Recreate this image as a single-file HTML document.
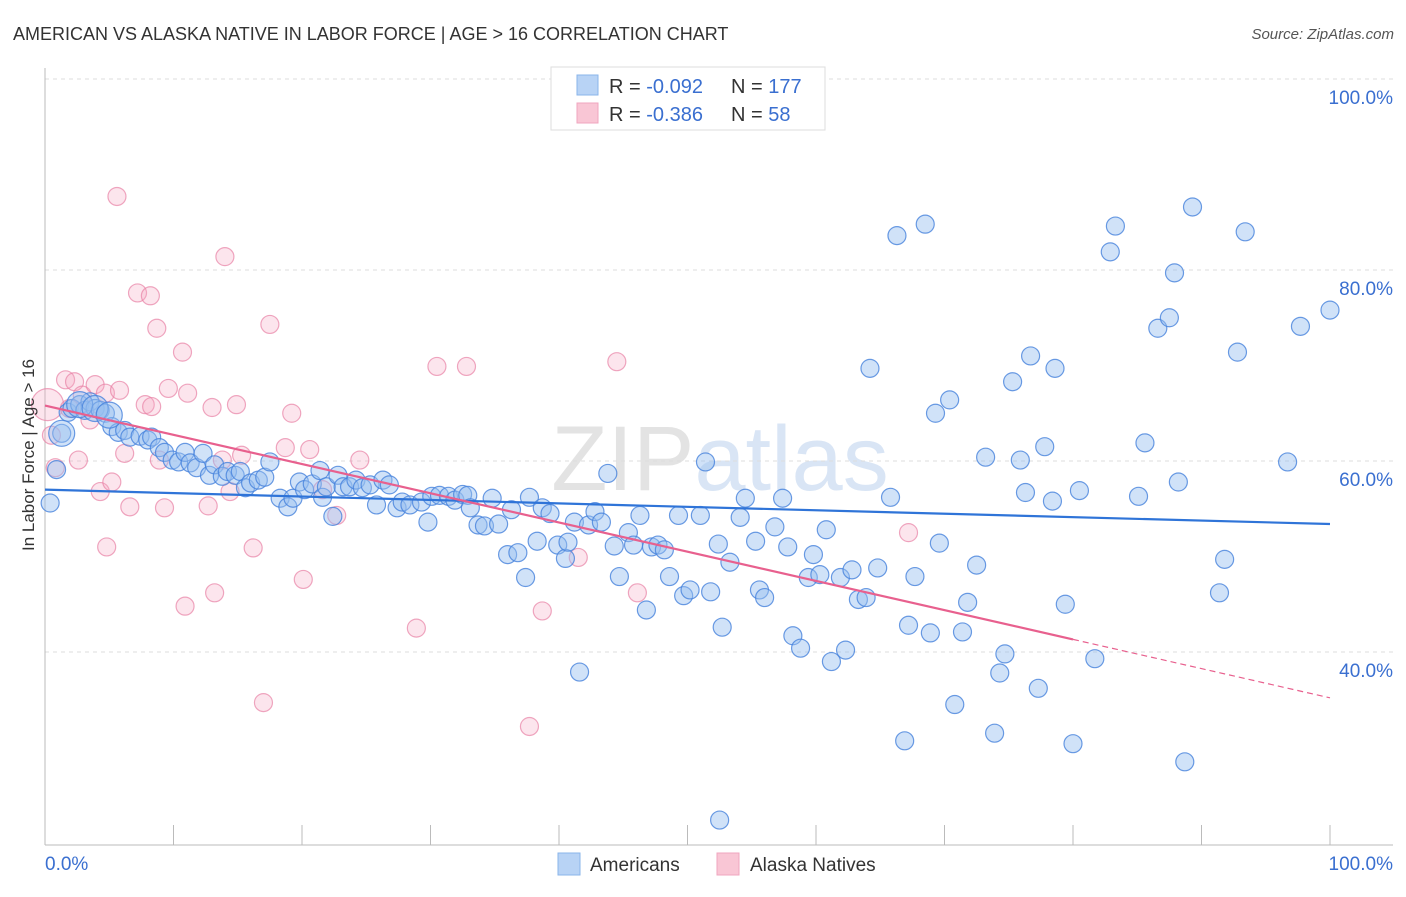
<!DOCTYPE html>
<html><head><meta charset="utf-8"><style>
body{margin:0;background:#fff;font-family:"Liberation Sans",sans-serif;}
svg text{font-family:"Liberation Sans",sans-serif;}
</style></head><body>
<svg id="chart" width="1406" height="892" xmlns="http://www.w3.org/2000/svg">
<text x="13" y="40" font-size="18" fill="#333">AMERICAN VS ALASKA NATIVE IN LABOR FORCE | AGE &gt; 16 CORRELATION CHART</text>
<text x="1394" y="39" font-size="15" fill="#555" font-style="italic" text-anchor="end">Source: ZipAtlas.com</text>
<text x="720" y="490" font-size="92" fill="#e6e6e6" text-anchor="middle" font-family="Liberation Serif"><tspan fill="#e3e3e3">ZIP</tspan><tspan fill="#d9e5f5" font-family="Liberation Sans">atlas</tspan></text>
<g id="grid"></g>
<g id="axes"></g>
<g id="pinkPts"></g>
<g id="bluePts"></g>
<g id="trends"></g>
<text transform="translate(34,455) rotate(-90)" font-size="17" fill="#333" text-anchor="middle">In Labor Force | Age &gt; 16</text>
<g>
<rect x="551" y="67" width="274" height="63" fill="#fff" stroke="#ddd"/>
<rect x="577" y="75" width="21" height="20" fill="#b8d3f5" stroke="#8ab4ea"/>
<rect x="577" y="103" width="21" height="20" fill="#f9c6d5" stroke="#f0a6bf"/>
<text x="609" y="93" font-size="20" fill="#333">R = <tspan fill="#3a6fd0">-0.092</tspan></text>
<text x="731" y="93" font-size="20" fill="#333">N = <tspan fill="#3a6fd0">177</tspan></text>
<text x="609" y="121" font-size="20" fill="#333">R = <tspan fill="#3a6fd0"> -0.386</tspan></text>
<text x="731" y="121" font-size="20" fill="#333">N = <tspan fill="#3a6fd0"> 58</tspan></text>
</g>
<g>
<rect x="558" y="853" width="22" height="22" fill="#b8d3f5" stroke="#8ab4ea"/>
<text x="590" y="871" font-size="19" fill="#333">Americans</text>
<rect x="717" y="853" width="22" height="22" fill="#f9c6d5" stroke="#f0a6bf"/>
<text x="750" y="871" font-size="19" fill="#333">Alaska Natives</text>
</g>
</svg>
<script>
const yTicks=[100,80,60,40];
const yTickLabels=["100.0%","80.0%","60.0%","40.0%"];
const xTicks=[0,10,20,30,40,50,60,70,80,90,100];
const xEndLabels=["0.0%","100.0%"];
const blueX=[0.4,0.9,1.3,1.8,2.1,2.7,3.1,3.5,3.9,4.3,4.7,5.2,5.7,6.2,6.6,7.4,8.0,8.3,8.9,9.3,9.9,10.4,10.9,11.3,11.8,12.3,12.8,13.2,13.8,14.2,14.8,15.2,15.6,16.0,16.6,17.1,17.5,18.3,18.9,19.3,19.8,20.2,20.8,21.4,21.6,21.9,22.4,22.8,23.2,23.7,24.2,24.7,25.3,25.8,26.3,26.8,27.4,27.8,28.4,29.3,29.8,30.1,30.7,31.4,31.9,32.5,32.9,33.1,33.7,34.2,34.8,35.3,36.0,36.3,36.8,37.4,37.7,38.3,38.7,39.3,39.9,40.5,40.7,41.2,41.6,42.3,42.8,43.3,43.8,44.3,44.7,45.4,45.8,46.3,46.8,47.2,47.7,48.2,48.6,49.3,49.7,50.2,51.0,51.4,51.8,52.4,52.7,53.3,54.1,54.5,55.3,55.6,56.0,56.8,57.4,57.8,58.2,58.8,59.4,59.8,60.3,60.8,61.2,61.9,62.3,62.8,63.3,63.9,64.2,64.8,65.8,66.3,66.9,67.2,67.7,68.5,68.9,69.3,69.6,70.4,70.8,71.4,71.8,72.5,73.2,73.9,74.3,74.7,75.3,75.9,76.3,76.7,77.3,77.8,78.4,78.6,79.4,80.0,80.5,81.7,82.9,83.3,85.1,85.6,86.6,87.5,87.9,88.2,88.7,89.3,91.4,91.8,92.8,93.4,96.7,97.7,100.0,52.5];
const blueY=[55.6,59.1,62.9,65.1,65.5,65.9,65.3,66.2,65.5,65.3,65.0,63.6,63.0,63.2,62.5,62.6,62.2,62.5,61.4,60.9,60.1,59.9,60.9,59.8,59.3,60.8,58.5,59.6,58.4,58.9,58.5,58.9,57.2,57.7,58.0,58.3,59.9,56.1,55.2,56.1,57.8,57.0,57.6,59.0,56.2,57.3,54.2,58.5,57.3,57.3,58.0,57.2,57.5,55.4,58.0,57.5,55.1,55.7,55.4,55.7,53.6,56.3,56.4,56.3,55.9,56.5,56.4,55.1,53.3,53.2,56.1,53.4,50.2,54.9,50.4,47.8,56.2,51.6,55.1,54.5,51.2,49.8,51.5,53.6,37.9,53.3,54.7,53.6,58.7,51.1,47.9,52.5,51.2,54.3,44.4,51.0,51.2,50.7,47.9,54.3,45.9,46.5,54.3,59.9,46.3,51.3,42.6,49.4,54.1,56.1,51.6,46.5,45.7,53.1,56.1,51.0,41.7,40.4,47.8,50.2,48.1,52.8,39.0,47.8,40.2,48.6,45.5,45.7,69.7,48.8,56.2,83.6,30.7,42.8,47.9,84.8,42.0,65.0,51.4,66.4,34.5,42.1,45.2,49.1,60.4,31.5,37.8,39.8,68.3,60.1,56.7,71.0,36.2,61.5,55.8,69.7,45.0,30.4,56.9,39.3,81.9,84.6,56.3,61.9,73.9,75.0,79.7,57.8,28.5,86.6,46.2,49.7,71.4,84.0,59.9,74.1,75.8,22.4];
const blueBigX=[1.3,2.7,3.9,5.0];
const blueBigY=[62.9,65.9,65.5,64.8];
const pinkX=[0.2,0.5,0.8,1.6,1.9,2.3,2.6,2.9,3.5,3.9,4.3,4.7,4.8,5.2,5.6,5.8,6.2,6.6,7.2,8.2,7.8,8.3,8.7,8.9,9.3,9.6,10.7,10.9,11.1,12.7,13.0,13.2,13.8,14.0,14.4,14.9,15.3,16.2,17.0,17.5,18.7,19.2,20.1,20.6,21.6,22.7,24.5,28.9,30.5,32.8,37.7,38.7,41.5,44.5,46.1,67.2];
const pinkY=[65.9,62.7,59.3,68.5,65.5,68.3,60.1,66.9,64.3,68.0,56.8,67.1,51.0,57.8,87.7,67.4,60.8,55.2,77.6,77.3,65.9,65.7,73.9,60.1,55.1,67.6,71.4,44.8,67.1,55.3,65.6,46.2,60.1,81.4,56.8,65.9,60.6,50.9,34.7,74.3,61.4,65.0,47.6,61.2,57.0,54.3,60.1,42.5,69.9,69.9,32.2,44.3,49.9,70.4,46.2,52.5];
const blueTrend=[57.0,53.4];
const pinkTrend=[65.8,35.2];
const pinkSolidEnd=80;

const X0=45,X1=1330,Y80=270,PXPER=9.55;
const sx=v=>X0+(X1-X0)*v/100;
const sy=v=>Y80-(v-80)*PXPER;
const NS="http://www.w3.org/2000/svg";
function mk(tag,attrs,parent){const e=document.createElementNS(NS,tag);for(const k in attrs)e.setAttribute(k,attrs[k]);parent.appendChild(e);return e;}
const grid=document.getElementById('grid'),axes=document.getElementById('axes');
yTicks.forEach((t,i)=>{
  const l=mk('line',{x1:45,x2:1393,y1:sy(t),y2:sy(t),stroke:'#ddd','stroke-dasharray':'4,4'},grid);
  
  
  const tx=mk('text',{x:1393,y:sy(t)+25,'font-size':19,fill:'#3a6fd0','text-anchor':'end'},axes);
  tx.textContent=yTickLabels[i];
  
  
});
const la=mk('line',{x1:45,x2:45,y1:68,y2:845,stroke:'#bbb'},axes);


const ba=mk('line',{x1:45,x2:1393,y1:845,y2:845,stroke:'#bbb'},axes);


xTicks.forEach(t=>{
  const l=mk('line',{x1:sx(t),x2:sx(t),y1:825,y2:845,stroke:'#bbb'},axes);
  
  
});
const xl0=mk('text',{x:45,y:870,'font-size':19,fill:'#3a6fd0'},axes);xl0.textContent=xEndLabels[0];


const xl1=mk('text',{x:1393,y:870,'font-size':19,fill:'#3a6fd0','text-anchor':'end'},axes);xl1.textContent=xEndLabels[1];



const pg=document.getElementById('pinkPts');
pinkX.forEach((x,i)=>{
  const c=mk('circle',{cx:sx(x),cy:sy(pinkY[i]),r:i===0?16:9,fill:'rgba(244,170,196,0.3)',stroke:'rgba(232,130,165,0.7)','stroke-width':1.2},pg);
  
  
});
const bg=document.getElementById('bluePts');
blueX.forEach((x,i)=>{
  const c=mk('circle',{cx:sx(x),cy:sy(blueY[i]),r:9,fill:'rgba(150,190,240,0.45)',stroke:'rgba(70,130,220,0.8)','stroke-width':1.2},bg);
  
  
});
blueBigX.forEach((x,i)=>{
  const c=mk('circle',{cx:sx(x),cy:sy(blueBigY[i]),r:13,fill:'rgba(150,190,240,0.45)',stroke:'rgba(70,130,220,0.8)','stroke-width':1.2},bg);
  
  
});
const tg=document.getElementById('trends');
const bt=mk('line',{x1:sx(0),y1:sy(blueTrend[0]),x2:sx(100),y2:sy(blueTrend[1]),stroke:'#2f74d8','stroke-width':2.2},tg);


const pm=pinkTrend[0]+(pinkTrend[1]-pinkTrend[0])*pinkSolidEnd/100;
const pt=mk('line',{x1:sx(0),y1:sy(pinkTrend[0]),x2:sx(pinkSolidEnd),y2:sy(pm),stroke:'#e8608e','stroke-width':2.2},tg);


const pd=mk('line',{x1:sx(pinkSolidEnd),y1:sy(pm),x2:sx(100),y2:sy(pinkTrend[1]),stroke:'#e8608e','stroke-width':1.2,'stroke-dasharray':'6,4'},tg);


</script>
</body></html>
